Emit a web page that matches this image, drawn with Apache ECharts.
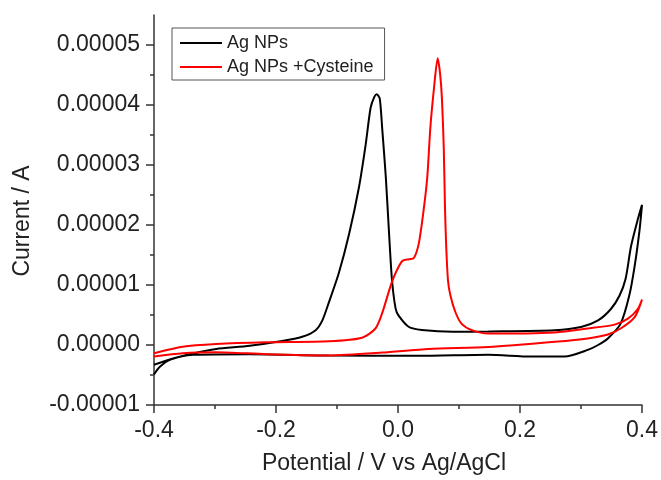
<!DOCTYPE html>
<html>
<head>
<meta charset="utf-8">
<script src="https://cdn.jsdelivr.net/npm/echarts@6/dist/echarts.min.js"></script>
<style>
  html, body { margin: 0; padding: 0; background: #fff; }
  #chart { width: 661px; height: 480px; }
</style>
</head>
<body>
<div id="chart"></div>
<script>
// 数据：循环伏安曲线（正扫 + 回扫）
const xTicks = [-0.4, -0.2, 0.0, 0.2, 0.4]
const yTicks = [-1e-5, 0, 1e-5, 2e-5, 3e-5, 4e-5, 5e-5]

const agX = [
  -0.400, -0.363, -0.325, -0.298, -0.243, -0.190, -0.157, -0.135, -0.124, -0.113,
  -0.097, -0.080, -0.064, -0.053, -0.045, -0.039, -0.035, -0.030, -0.026, -0.020,
  -0.015, -0.010, -0.004, 0.001, 0.018, 0.039, 0.090, 0.148, 0.257, 0.300,
  0.328, 0.349, 0.363, 0.373, 0.382, 0.393, 0.400,
  0.396, 0.388, 0.379, 0.365, 0.344, 0.328, 0.311, 0.273, 0.218, 0.148,
  0.034, -0.113, -0.243, -0.336, -0.374, -0.390, -0.400
]
const agY = [
  -3.29e-6, -2.09e-6, -1.15e-6, -0.66e-6, -0.12e-6, 0.66e-6, 1.37e-6, 2.47e-6, 4.1e-6, 7.2e-6,
  1.20e-5, 1.86e-5, 2.63e-5, 3.34e-5, 3.95e-5, 4.13e-5, 4.18e-5, 4.11e-5, 3.62e-5, 2.80e-5,
  1.92e-5, 1.10e-5, 6.1e-6, 4.9e-6, 3.0e-6, 2.5e-6, 2.2e-6, 2.25e-6, 2.47e-6, 3.0e-6,
  4.1e-6, 6.0e-6, 8.2e-6, 1.10e-5, 1.645e-5, 2.09e-5, 2.335e-5,
  1.92e-5, 1.32e-5, 8.2e-6, 3.57e-6, 1.1e-6, 0, -0.82e-6, -1.92e-6, -1.92e-6, -1.64e-6,
  -1.81e-6, -1.76e-6, -1.53e-6, -1.64e-6, -2.47e-6, -3.6e-6, -4.9e-6
]

const cysX = [
  -0.400, -0.353, -0.298, -0.216, -0.113, -0.059, -0.037, -0.026, -0.012, -0.004,
  0.007, 0.018, 0.026, 0.034, 0.042, 0.048, 0.053, 0.059, 0.065, 0.069,
  0.072, 0.075, 0.077, 0.079, 0.082, 0.086, 0.094, 0.104, 0.121, 0.148,
  0.257, 0.311, 0.355, 0.377, 0.393, 0.400,
  0.388, 0.365, 0.344, 0.311, 0.257, 0.148, 0.050, -0.026, -0.113, -0.216,
  -0.298, -0.353, -0.400
]
const cysY = [
  -1.37e-6, -0.28e-6, 0.16e-6, 0.44e-6, 0.61e-6, 1.2e-6, 2.75e-6, 5.3e-6, 9.9e-6, 1.20e-5,
  1.40e-5, 1.43e-5, 1.45e-5, 1.69e-5, 2.25e-5, 2.80e-5, 3.62e-5, 4.28e-5, 4.78e-5, 4.52e-5,
  4.11e-5, 3.29e-5, 2.30e-5, 1.645e-5, 1.07e-5, 8.2e-6, 5.5e-6, 3.57e-6, 2.47e-6, 1.9e-6,
  2.1e-6, 2.75e-6, 3.4e-6, 4.4e-6, 6.0e-6, 7.57e-6,
  4.65e-6, 2.75e-6, 1.76e-6, 1.1e-6, 0.54e-6, -0.33e-6, -0.66e-6, -1.27e-6, -1.73e-6, -1.53e-6,
  -1.2e-6, -1.37e-6, -1.92e-6
]

const font = "'Liberation Sans', Arial, sans-serif"
const pairs = (xs, ys) => xs.map((x, i) => [x, ys[i]])

const myChart = echarts.init(document.getElementById('chart'))
myChart.setOption({
  animation: false,
  textStyle: { fontFamily: font },
  grid: { left: 154, right: 17, top: 15, bottom: 69 },
  legend: {
    orient: 'vertical',
    left: 172,
    top: 28,
    padding: [6, 11, 4, 8],
    itemGap: 6,
    itemWidth: 42,
    itemHeight: 2,
    icon: 'rect',
    borderColor: '#555',
    borderWidth: 1,
    textStyle: { fontSize: 18, lineHeight: 18, color: '#222', fontFamily: font }
  },
  xAxis: {
    type: 'value',
    min: -0.4,
    max: 0.4,
    interval: 0.2,
    name: 'Potential / V vs Ag/AgCl',
    nameLocation: 'middle',
    nameGap: 47,
    nameTextStyle: { fontSize: 23, color: '#222', padding: [0, 28, 0, 0] },
    axisLine: { onZero: false, lineStyle: { color: '#333', width: 1.5 } },
    axisTick: { length: 8, lineStyle: { color: '#333', width: 1.5 } },
    minorTick: { show: true, splitNumber: 2, length: 4, lineStyle: { color: '#333', width: 1.5 } },
    splitLine: { show: false },
    axisLabel: {
      customValues: xTicks,
      fontSize: 23,
      color: '#222',
      margin: 14,
      formatter: v => v.toFixed(1)
    }
  },
  yAxis: {
    type: 'value',
    min: -1e-5,
    max: 5.5e-5,
    interval: 1e-5,
    name: 'Current / A',
    nameLocation: 'middle',
    nameGap: 120,
    nameTextStyle: { fontSize: 23, color: '#222', padding: [0, 22, 0, 0] },
    axisLine: { show: true, onZero: false, lineStyle: { color: '#333', width: 1.5 } },
    axisTick: { show: true, customValues: yTicks, length: 8, lineStyle: { color: '#333', width: 1.5 } },
    minorTick: { show: true, splitNumber: 2, length: 4, lineStyle: { color: '#333', width: 1.5 } },
    splitLine: { show: false },
    axisLabel: {
      customValues: yTicks,
      fontSize: 23,
      color: '#222',
      margin: 14,
      formatter: v => v.toFixed(5)
    }
  },
  series: [
    {
      name: 'Ag NPs',
      type: 'line',
      data: pairs(agX, agY),
      symbol: 'none',
      smooth: 0.25,
      lineStyle: { color: '#000', width: 2 },
      itemStyle: { color: '#000' }
    },
    {
      name: 'Ag NPs +Cysteine',
      type: 'line',
      data: pairs(cysX, cysY),
      symbol: 'none',
      smooth: 0.25,
      lineStyle: { color: '#ff0000', width: 2 },
      itemStyle: { color: '#ff0000' }
    }
  ]
})
</script>
</body>
</html>
